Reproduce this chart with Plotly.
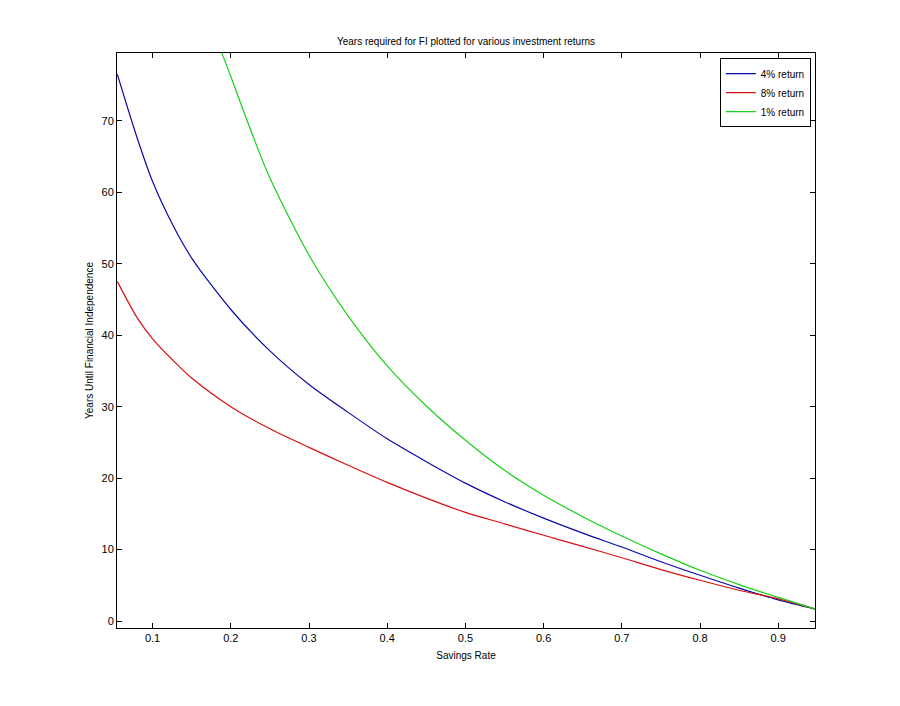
#!/usr/bin/env python3
"""
Years until financial independence vs savings rate, for three returns
"""

import plotly.graph_objects as go

# savings rates and years
savings_4 = [0.055, 0.08, 0.1, 0.125, 0.15, 0.2, 0.25, 0.3, 0.35, 0.4, 0.45,
             0.5, 0.55, 0.6, 0.65, 0.7, 0.75, 0.8, 0.85, 0.9, 0.95]
years_4 = [76.5, 67.7, 61.5, 55.6, 50.8, 43.6, 37.8, 33.1, 29.2, 25.5, 22.3,
           19.3, 16.7, 14.4, 12.3, 10.35, 8.3, 6.4, 4.6, 2.95, 1.6]

savings_8 = [0.055, 0.08, 0.1, 0.125, 0.15, 0.2, 0.25, 0.3, 0.35, 0.4, 0.45,
             0.5, 0.55, 0.6, 0.65, 0.7, 0.75, 0.8, 0.85, 0.9, 0.95]
years_8 = [47.5, 42.5, 39.5, 36.6, 34.0, 30.0, 26.9, 24.3, 21.8, 19.4, 17.2,
           15.2, 13.6, 12.0, 10.45, 8.85, 7.2, 5.7, 4.3, 3.1, 1.6]

savings_1 = [0.18, 0.192, 0.2, 0.2286, 0.25, 0.3, 0.35, 0.4, 0.45, 0.5, 0.55,
             0.6, 0.65, 0.7, 0.75, 0.8, 0.85, 0.9, 0.95]
years_1 = [82.0, 78.5, 76.2, 67.8, 62.0, 51.2, 42.7, 35.7, 30.1, 25.3, 21.1,
           17.6, 14.6, 11.9, 9.4, 7.1, 5.1, 3.3, 1.6]

x_ticks = [0.1, 0.2, 0.3, 0.4, 0.5, 0.6, 0.7, 0.8, 0.9]
y_ticks = [0, 10, 20, 30, 40, 50, 60, 70]

fig = go.Figure()
fig.add_trace(go.Scatter(x=savings_4, y=years_4, mode='lines', name='4% return',
                         line=dict(color='#0a0aa8', width=1.2, shape='spline', smoothing=0.8)))
fig.add_trace(go.Scatter(x=savings_8, y=years_8, mode='lines', name='8% return',
                         line=dict(color='#d81010', width=1.2, shape='spline', smoothing=0.8)))
fig.add_trace(go.Scatter(x=savings_1, y=years_1, mode='lines', name='1% return',
                         line=dict(color='#18d018', width=1.2, shape='spline', smoothing=0.8)))

axis_style = dict(
    showline=True, linecolor='black', linewidth=1, mirror='ticks',
    ticks='inside', ticklen=5, tickcolor='black', showgrid=False, zeroline=False,
    tickfont=dict(size=11, color='black'),
)

# the page body adds 8px around the figure, so sizes are reduced by that
W, H = 884, 690
fig.update_layout(
    width=W, height=H,
    paper_bgcolor='white', plot_bgcolor='white',
    font=dict(family='Liberation Sans, Arial, sans-serif', color='black'),
    margin=dict(l=109, r=77, t=45, b=70),
    title=dict(text='Years required for FI plotted for various investment returns',
               x=(109 + 807) / 2 / W, xanchor='center', y=1 - 33 / H, yanchor='middle',
               font=dict(size=10)),
    xaxis=dict(range=[0.0545, 0.947], tickvals=x_ticks,
               title=dict(text='Savings Rate', font=dict(size=10), standoff=8),
               **axis_style),
    yaxis=dict(range=[-0.98, 79.5], tickvals=y_ticks,
               title=dict(text='Years Until Financial Independence', font=dict(size=10), standoff=6),
               **axis_style),
    legend=dict(x=0.994, y=0.991, xanchor='right', yanchor='top',
                bgcolor='white', bordercolor='black', borderwidth=1,
                font=dict(size=10), tracegroupgap=0, itemwidth=30),
    showlegend=True,
)

fig.write_html("out.html")
